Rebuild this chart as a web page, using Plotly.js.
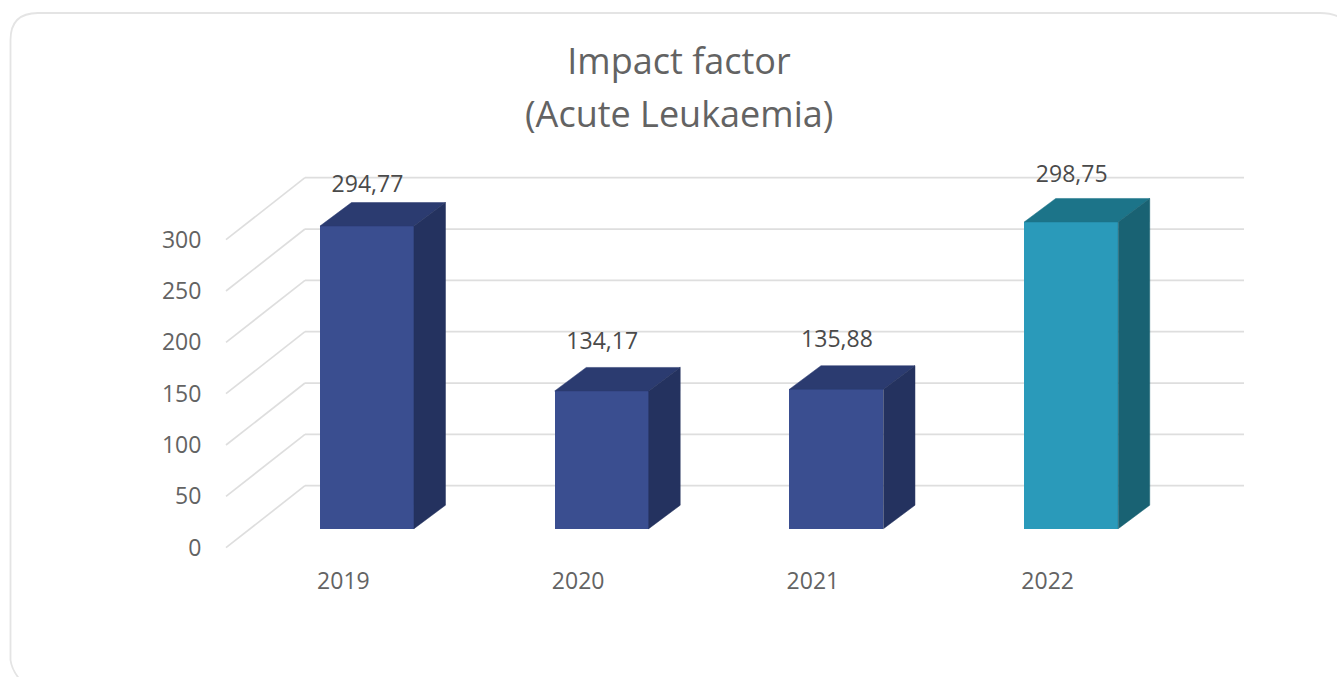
<!DOCTYPE html>
<html>
<head>
<meta charset="utf-8">
<script src="https://cdn.plot.ly/plotly-3.0.1.min.js"></script>
<style>html,body{margin:0;padding:0;background:#fff;overflow:hidden}</style>
</head>
<body>
<div id="chart" style="width:1337px;height:677px"></div>
<script>
// Data
const years = ['2019', '2020', '2021', '2022'];
const impactValues = [294.77, 134.17, 135.88, 298.75];
const valueTicks = [0, 50, 100, 150, 200, 250, 300];
const frontColors = ['#3A4E90', '#3A4E90', '#3A4E90', '#2A9ABA'];
const topColors = ['#2B3B70', '#2B3B70', '#2B3B70', '#1C7489'];
const sideColors = ['#24325F', '#24325F', '#24325F', '#196273'];
const labelLift = [38.5, 46, 47, 44.5];

// Pixel calibration of the oblique projection
const W = 1337, H = 677;
const pxPerCat = 234.75, pxPerUnit = 1.0267;
const originX = 226, originY = 547.7;      // front-plane corner (start of category 0, value 0)
const wallDX = 79 / pxPerCat, wallDY = 62 / pxPerUnit;     // front plane -> back wall
const barDX = 23.6 / pxPerCat, barDY = 19 / pxPerUnit;     // front plane -> bar front
const depthDX = 31.5 / pxPerCat, depthDY = 23.5 / pxPerUnit; // bar depth
const barWidth = 94 / pxPerCat;

const xRange = [-0.5 - originX / pxPerCat, -0.5 + (W - originX) / pxPerCat];
const yRange = [-(H - originY) / pxPerUnit, originY / pxPerUnit];
const cats = years.map((_, i) => i);

const traces = [];
traces.push({
  type: 'bar', x: cats.map(c => c + barDX), y: impactValues,
  base: impactValues.map(() => barDY), width: barWidth,
  marker: {color: frontColors, line: {width: 0}}, hoverinfo: 'skip', showlegend: false
});
impactValues.forEach((v, i) => {
  const l = i + barDX - barWidth / 2, r = i + barDX + barWidth / 2;
  const b = barDY, t = barDY + v;
  traces.push({
    type: 'scatter', mode: 'lines', fill: 'toself', fillcolor: topColors[i],
    x: [l, r, r + depthDX, l + depthDX, l], y: [t, t, t + depthDY, t + depthDY, t],
    line: {width: 0.5, color: topColors[i]}, hoverinfo: 'skip', showlegend: false
  });
  traces.push({
    type: 'scatter', mode: 'lines', fill: 'toself', fillcolor: sideColors[i],
    x: [r, r + depthDX, r + depthDX, r, r], y: [t, t + depthDY, b + depthDY, b, t],
    line: {width: 0.5, color: sideColors[i]}, hoverinfo: 'skip', showlegend: false
  });
});
traces.push({
  type: 'scatter', mode: 'text',
  x: cats.map(c => c + barDX + 0.002),
  y: impactValues.map((v, i) => barDY + v + labelLift[i]),
  text: impactValues.map(v => v.toFixed(2).replace('.', ',')),
  textposition: 'middle center',
  textfont: {family: 'Open Sans, sans-serif', size: 23, color: '#4a4a4a'},
  hoverinfo: 'skip', showlegend: false
});

const gridStyle = {color: '#dedede', width: 1.7};
const shapes = [];
valueTicks.forEach(v => {
  shapes.push({type: 'line', layer: 'below', xref: 'x', yref: 'y',
    x0: -0.5, y0: v, x1: -0.5 + wallDX, y1: v + wallDY, line: gridStyle});
  shapes.push({type: 'line', layer: 'below', xref: 'x', yref: 'y',
    x0: -0.5 + wallDX, y0: v + wallDY, x1: 3.5 + wallDX, y1: v + wallDY, line: gridStyle});
});
// rounded card frame (runs off the right and bottom of the picture)
const fx = p => p / W, fy = p => 1 - p / H;
const q = (a, b) => fx(a) + ',' + fy(b);
shapes.push({type: 'path', layer: 'below', xref: 'paper', yref: 'paper',
  path: 'M ' + q(10.5, 660) + ' L ' + q(10.5, 40) + ' Q ' + q(10.5, 13) + ' ' + q(38, 13) +
        ' L ' + q(1320, 13) + ' Q ' + q(1345, 13) + ' ' + q(1352, 32) +
        ' M ' + q(10.5, 660) + ' Q ' + q(12, 672) + ' ' + q(24, 684),
  line: {color: '#e4e4e4', width: 1.8}});

const tickFont = {family: 'Open Sans, sans-serif', size: 23, color: '#636363'};
const titleFont = {family: 'Open Sans, sans-serif', size: 36, color: '#636363'};
const layout = {
  width: W, height: H,
  margin: {l: 0, r: 0, t: 0, b: 0, pad: 0},
  paper_bgcolor: '#ffffff', plot_bgcolor: 'rgba(0,0,0,0)',
  showlegend: false,
  title: {
    text: 'Impact factor',
    font: titleFont,
    x: 679 / W, xanchor: 'center', xref: 'paper', y: 1 - 61 / H, yanchor: 'middle', yref: 'container'
  },
  annotations: [{
    text: '(Acute Leukaemia)', font: titleFont, showarrow: false,
    xref: 'paper', yref: 'paper', x: 679 / W, y: 1 - 113 / H, xanchor: 'center', yanchor: 'middle'
  }],
  xaxis: {
    domain: [0, 1], range: xRange, anchor: 'free', position: (H - originY) / H,
    tickmode: 'array', tickvals: cats, ticktext: years, tickfont: tickFont,
    ticks: 'outside', ticklen: 13, tickcolor: 'rgba(0,0,0,0)',
    showgrid: false, zeroline: false, showline: false, fixedrange: true
  },
  yaxis: {
    domain: [0, 1], range: yRange, anchor: 'free', position: originX / W,
    tickmode: 'array', tickvals: valueTicks, ticktext: valueTicks.map(String), tickfont: tickFont,
    ticks: 'outside', ticklen: 20, tickcolor: 'rgba(0,0,0,0)',
    showgrid: false, zeroline: false, showline: false, fixedrange: true
  },
  shapes: shapes,
  bargap: 0
};
Plotly.newPlot('chart', traces, layout, {displayModeBar: false, staticPlot: true});
</script>
</body>
</html>
